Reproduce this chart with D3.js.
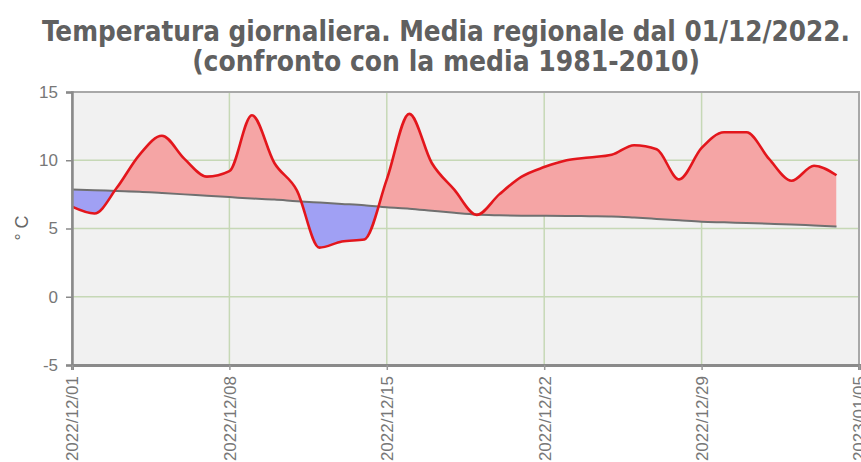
<!DOCTYPE html>
<html><head><meta charset="utf-8">
<script src="https://cdn.jsdelivr.net/npm/d3@7"></script>
<style>
html,body{margin:0;padding:0;background:#fff;}
svg{display:block;}
</style></head>
<body>
<svg id="chart" width="861" height="462"></svg>
<script>
const titleLines = ["Temperatura giornaliera. Media regionale dal 01/12/2022.", "(confronto con la media 1981-2010)"];
const startDate = "2022-12-01";
const endDate = "2023-01-05";
const tickDates = ["2022-12-01","2022-12-08","2022-12-15","2022-12-22","2022-12-29","2023-01-05"];
const yTicks = [-5, 0, 5, 10, 15];
const yLabel = "° C";
// daily mean regional temperature (°C), 2022-12-01 .. 2023-01-04
const temp = [6.6, 6.1, 8.0, 10.4, 11.8, 10.1, 8.8, 9.2, 13.3, 9.8, 7.8, 3.6, 4.05, 4.2, 8.6, 13.4, 9.8, 7.85, 6.0, 7.5, 8.8, 9.5, 10.0, 10.2, 10.4, 11.1, 10.8, 8.6, 10.9, 12.05, 12.05, 10.1, 8.5, 9.6, 8.9];
// 1981-2010 climatological mean (°C)
const norm = [7.85, 7.8, 7.75, 7.7, 7.6, 7.5, 7.4, 7.3, 7.2, 7.12, 7.0, 6.9, 6.8, 6.7, 6.55, 6.45, 6.3, 6.15, 6.02, 5.97, 5.94, 5.93, 5.92, 5.9, 5.88, 5.8, 5.7, 5.6, 5.5, 5.45, 5.4, 5.35, 5.3, 5.22, 5.15];

const parse = d3.utcParse("%Y-%m-%d");
const fmt = d3.utcFormat("%Y/%m/%d");
const t0 = parse(startDate);
const data = temp.map((v, i) => ({date: d3.utcDay.offset(t0, i), t: v, n: norm[i]}));

const svg = d3.select("#chart");
const L = 72, R = 859, T = 92, B = 365;
const x = d3.scaleUtc().domain([t0, parse(endDate)]).range([L, R]);
const y = d3.scaleLinear().domain([-5, 15]).range([B, T]);

// title
const titleY = [41, 71], titleW = [808, 508];
titleLines.forEach((s, i) => {
  const t = svg.append("text").attr("x", 446).attr("y", titleY[i])
    .attr("text-anchor", "middle")
    .attr("font-family", "'DejaVu Sans Condensed','DejaVu Sans',sans-serif")
    .attr("font-weight", "bold").attr("font-size", 22).attr("fill", "#606060").text(s);
  const w = t.node().getComputedTextLength();
  t.attr("font-size", 22 * titleW[i] / w);
});

// plot background
svg.append("rect").attr("x", L).attr("y", T).attr("width", R - L).attr("height", B - T).attr("fill", "#f1f1f1");

// grid
const gridColor = "#c6d8b6";
svg.append("g").selectAll("line").data(yTicks.filter(v => v > -5 && v < 15)).join("line")
  .attr("x1", L).attr("x2", R).attr("y1", d => y(d)).attr("y2", d => y(d))
  .attr("stroke", gridColor).attr("stroke-width", 1.5);
svg.append("g").selectAll("line").data(tickDates.slice(1, -1)).join("line")
  .attr("x1", d => x(parse(d))).attr("x2", d => x(parse(d))).attr("y1", T).attr("y2", B)
  .attr("stroke", gridColor).attr("stroke-width", 1.5);

// clip paths
const curve = d3.curveMonotoneX;
const defs = svg.append("defs");
defs.append("clipPath").attr("id", "above").append("path")
  .attr("d", d3.area().curve(curve).x(d => x(d.date)).y0(0).y1(d => y(d.n))(data));
defs.append("clipPath").attr("id", "below").append("path")
  .attr("d", d3.area().curve(curve).x(d => x(d.date)).y0(462).y1(d => y(d.n))(data));

const band = d3.area().curve(curve).x(d => x(d.date)).y0(d => y(d.n)).y1(d => y(d.t));
svg.append("path").attr("d", band(data)).attr("fill", "#f5a5a5").attr("clip-path", "url(#above)");
svg.append("path").attr("d", band(data)).attr("fill", "#a0a0f4").attr("clip-path", "url(#below)");

// normal line
svg.append("path").attr("d", d3.line().curve(curve).x(d => x(d.date)).y(d => y(d.n))(data))
  .attr("fill", "none").attr("stroke", "#707070").attr("stroke-width", 2);
// temperature line
svg.append("path").attr("d", d3.line().curve(curve).x(d => x(d.date)).y(d => y(d.t))(data))
  .attr("fill", "none").attr("stroke", "#e3161c").attr("stroke-width", 2.6).attr("stroke-linejoin", "round");

// frame
svg.append("rect").attr("x", L).attr("y", T).attr("width", R - L).attr("height", B - T)
  .attr("fill", "none").attr("stroke", "#a8a8a8").attr("stroke-width", 2);

// y axis
const yAxis = svg.append("g").attr("transform", `translate(${L},0)`)
  .call(d3.axisLeft(y).tickValues(yTicks).tickFormat(d => String(d)).tickSize(6).tickPadding(8));
yAxis.select(".domain").attr("stroke", "#8a8a8a").attr("stroke-width", 2.5);
yAxis.selectAll(".tick line").attr("stroke", "#8a8a8a").attr("stroke-width", 1.5);
yAxis.selectAll(".tick text").attr("font-family", "Arial, 'Liberation Sans', sans-serif")
  .attr("font-size", 17).attr("fill", "#777");

// x axis
const xAxis = svg.append("g").attr("transform", `translate(0,${B})`)
  .call(d3.axisBottom(x).tickValues(tickDates.map(parse)).tickFormat(fmt).tickSize(5).tickPadding(8));
xAxis.select(".domain").attr("stroke", "#8a8a8a").attr("stroke-width", 3);
xAxis.selectAll(".tick line").attr("stroke", "#999").attr("stroke-width", 1.5);
xAxis.selectAll(".tick text")
  .attr("font-family", "Arial, 'Liberation Sans', sans-serif")
  .attr("font-size", 17).attr("fill", "#777")
  .attr("text-anchor", "end").attr("dy", "0.35em")
  .attr("transform", "rotate(-90)").attr("x", -11).attr("y", 0);

// y label
svg.append("text").attr("transform", "translate(28,228) rotate(-90)")
  .attr("text-anchor", "middle").attr("font-family", "Arial, 'Liberation Sans', sans-serif")
  .attr("font-size", 18).attr("fill", "#666").text(yLabel);
</script>
</body></html>
